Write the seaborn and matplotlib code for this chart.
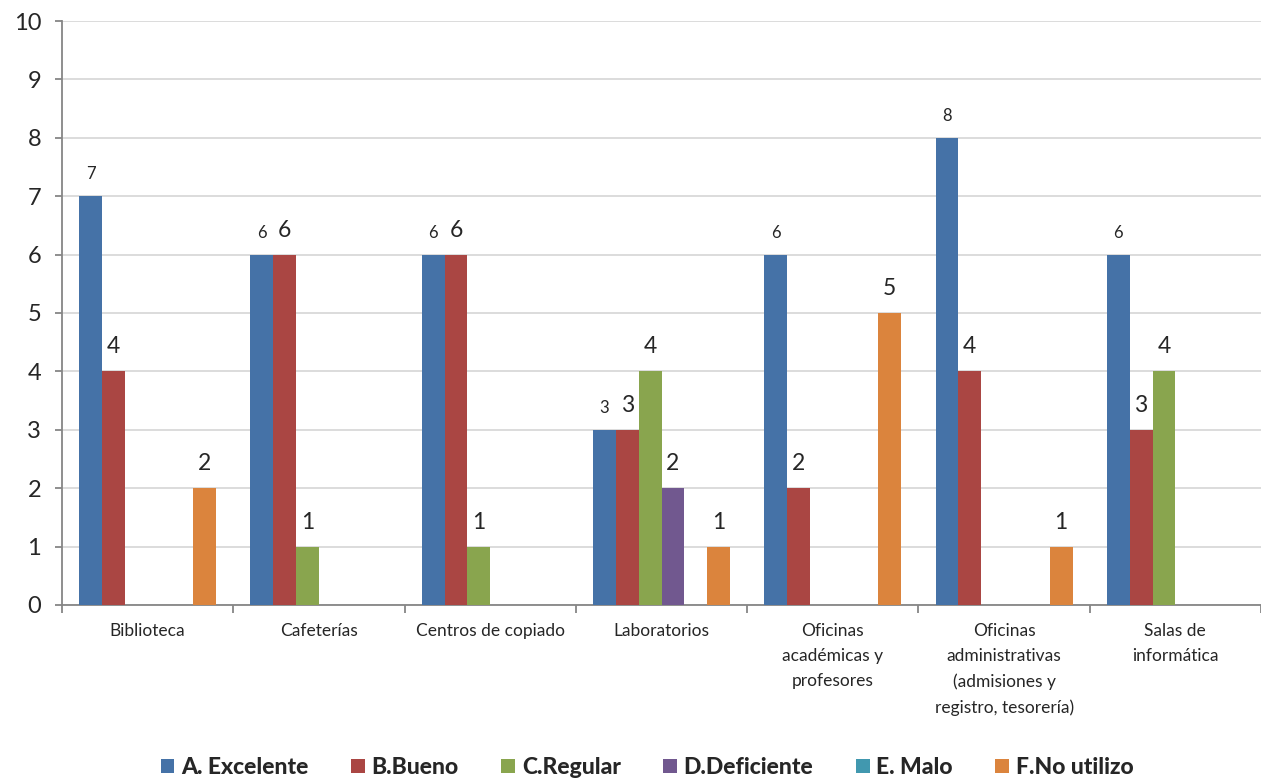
import pandas as pd
import numpy as np
import matplotlib.pyplot as plt
import seaborn as sns

sns.set_style("white")
plt.rcParams['font.family'] = ['Lato', 'DejaVu Sans']

categorias = ["Biblioteca", "Cafeterías", "Centros de copiado", "Laboratorios",
              "Oficinas\nacadémicas y\nprofesores",
              "Oficinas\nadministrativas\n(admisiones y\nregistro, tesorería)",
              "Salas de\ninformática"]
series = ["A. Excelente", "B.Bueno", "C.Regular", "D.Deficiente", "E. Malo", "F.No utilizo"]
excelente = [7, 6, 6, 3, 6, 8, 6]
bueno = [4, 6, 6, 3, 2, 4, 3]
regular = [0, 1, 1, 4, 0, 0, 4]
deficiente = [0, 0, 0, 2, 0, 0, 0]
malo = [0, 0, 0, 0, 0, 0, 0]
no_utilizo = [2, 0, 0, 1, 5, 1, 0]
colores = ["#4572A7", "#AA4643", "#89A54E", "#71588F", "#4198AF", "#DB843D"]

valores = [excelente, bueno, regular, deficiente, malo, no_utilizo]
filas = []
for s, vals in zip(series, valores):
    for c, v in zip(categorias, vals):
        filas.append({"categoria": c, "serie": s, "valor": v})
df = pd.DataFrame(filas)

fig = plt.figure(figsize=(12.61, 7.78), dpi=100)
ax = fig.add_axes([0.0492, 0.2224, 0.9508, 0.7506])

sns.barplot(data=df, x="categoria", y="valor", hue="serie", order=categorias,
            hue_order=series, palette=colores, width=0.8, linewidth=0,
            saturation=1, ax=ax, legend=True, zorder=3)

ax.set_ylim(0, 10)
ax.set_xlim(-0.5, len(categorias) - 0.5)
ax.set_yticks(range(0, 11))
ax.yaxis.grid(True, color="#d9d9d9", linewidth=1.3, zorder=0)
ax.set_axisbelow(True)
ax.set_xlabel("")
ax.set_ylabel("")

for sp in ["top", "right"]:
    ax.spines[sp].set_visible(False)
for sp in ["left", "bottom"]:
    ax.spines[sp].set_color("#868686")
    ax.spines[sp].set_linewidth(1.3)

ax.tick_params(axis="y", labelsize=17, length=5, color="#868686", width=1.3, pad=10, direction="out", left=True)
ax.tick_params(axis="x", which="major", length=0, labelsize=12.5, pad=13)
ax.set_xticks(np.arange(-0.5, len(categorias), 1), minor=True)
ax.tick_params(axis="x", which="minor", length=6, color="#868686", width=1.3, direction="out", bottom=True)
for lbl in ax.get_xticklabels():
    lbl.set_horizontalalignment("center")
    lbl.set_verticalalignment("top")
    lbl.set_linespacing(1.7)

for i, cont in enumerate(ax.containers):
    etiquetas = [str(int(v)) if v > 0 else "" for v in cont.datavalues]
    tam = 12 if i == 0 else 16.5
    ax.bar_label(cont, labels=etiquetas, padding=10, fontsize=tam)

leg = ax.legend(loc="upper center", bbox_to_anchor=(0.488, -0.225), ncol=6, frameon=False,
                handlelength=0.6, handleheight=0.6, handletextpad=0.3, columnspacing=1.85,
                prop={"weight": "black", "size": 16.5})

fig.savefig("out.png", dpi=100)
